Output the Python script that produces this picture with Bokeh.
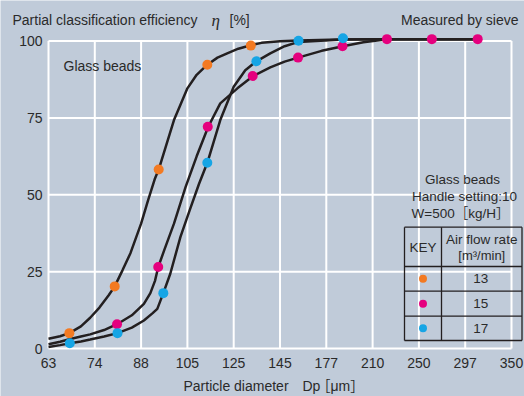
from bokeh.plotting import figure
from bokeh.models import Range1d, FixedTicker, Label
from bokeh.embed import file_html
from bokeh.resources import INLINE

# ---------------- data ----------------
x_tick_labels = ["63", "74", "88", "105", "125", "145", "177", "210", "250", "297", "350"]
y_ticks = [0, 25, 50, 75, 100]

series_names = ["13", "15", "17"]          # air flow rate [m3/min]
series_colors = ["#f37a22", "#e5007e", "#16a5e5"]

# measured points (x in sieve-axis position units, y = efficiency %)
pts13_x = [0.45, 1.43, 2.38, 3.43, 4.37]
pts13_y = [5.0, 20.2, 58.2, 92.3, 98.5]
pts15_x = [1.48, 2.37, 3.44, 4.41, 5.39, 6.35, 7.31, 8.28, 9.27]
pts15_y = [7.9, 26.5, 72.1, 88.6, 94.6, 98.3, 100.6, 100.6, 100.6]
pts17_x = [0.46, 1.49, 2.48, 3.43, 4.49, 5.40, 6.36]
pts17_y = [1.7, 5.0, 18.0, 60.4, 93.4, 100.1, 100.9]

# curves
c13_x = [0, 0.25, 0.45, 0.7, 0.9, 1.1, 1.3, 1.43, 1.6, 1.77, 2.0, 2.15, 2.3, 2.38, 2.55, 2.71,
         2.85, 3.0, 3.2, 3.43, 3.65, 3.86, 4.1, 4.37, 4.6, 5.0, 5.4, 6.3, 7.31, 9.27]
c13_y = [3.2, 4.0, 5.0, 7.2, 10.0, 13.3, 17.3, 20.2, 25.5, 31.0, 40.6, 48.2, 55.3, 58.2, 66.5, 74.3,
         79.3, 84.6, 89.0, 92.3, 94.6, 96.0, 97.5, 98.6, 99.4, 99.9, 100.2, 100.5, 100.6, 100.6]
c15_x = [0, 0.25, 0.45, 0.7, 0.9, 1.2, 1.48, 1.8, 2.06, 2.2, 2.3, 2.37, 2.5, 2.71, 2.96, 3.2,
         3.45, 3.71, 4.08, 4.42, 4.79, 5.1, 5.39, 5.9, 6.36, 6.8, 7.31, 9.27]
c15_y = [1.4, 2.2, 3.0, 3.9, 4.6, 6.0, 7.9, 10.8, 14.5, 18.0, 22.0, 26.5, 32.0, 40.6, 52.5, 62.5,
         72.1, 79.7, 84.6, 88.6, 91.4, 93.3, 94.6, 96.8, 98.3, 99.6, 100.6, 100.6]
c17_x = [0, 0.25, 0.46, 0.7, 0.9, 1.2, 1.49, 1.8, 2.06, 2.25, 2.35, 2.48, 2.63, 2.85, 3.05, 3.25,
         3.43, 3.71, 4.0, 4.25, 4.49, 4.79, 5.1, 5.4, 6.36, 7.31, 9.27]
c17_y = [0.5, 1.1, 1.7, 2.3, 2.9, 3.9, 5.0, 6.8, 9.1, 11.5, 12.9, 18.0, 24.3, 36.3, 45.0, 53.5,
         60.4, 74.3, 85.1, 90.5, 93.4, 96.0, 98.3, 99.7, 100.5, 100.6, 100.6]

# ---------------- style / layout ----------------
BG = "#c0cbd9"
TXT = "#2a2a2a"
LINE = "#231f20"
FONT = "Liberation Sans"
CJK = "'Liberation Sans', 'Noto Sans CJK JP'"
W, H = 524, 396

# page-pixel -> data coordinate helpers (layout only)
X0_PX, X_PX_PER = 48.0, 46.3
Y0_PX, Y_PX_PER = 348.0, 3.075


def dx(px):
    return (px - X0_PX) / X_PX_PER


def dy(py):
    return (Y0_PX - py) / Y_PX_PER


p = figure(width=W, height=H, output_backend="svg", toolbar_location=None, title=None,
           x_range=Range1d(dx(0), dx(W)), y_range=Range1d(dy(H), dy(0)),
           min_border=0, min_border_left=0, min_border_right=0,
           min_border_top=0, min_border_bottom=0)
p.background_fill_color = BG
p.border_fill_color = BG
p.outline_line_color = None
p.xgrid.visible = False
p.ygrid.visible = False

xi = list(range(len(x_tick_labels)))
p.xaxis.ticker = FixedTicker(ticks=xi)
p.xaxis.major_label_overrides = {i: s for i, s in zip(xi, x_tick_labels)}
p.yaxis.ticker = FixedTicker(ticks=y_ticks)
p.xaxis.fixed_location = y_ticks[0]
p.yaxis.fixed_location = xi[0]
for ax in (p.xaxis, p.yaxis):
    ax.axis_line_color = None
    ax.major_tick_line_color = None
    ax.minor_tick_line_color = None
    ax.major_tick_out = 0
    ax.major_tick_in = 0
    ax.major_label_text_font = FONT
    ax.major_label_text_font_size = "14px"
    ax.major_label_text_color = TXT
p.xaxis.major_label_standoff = 9
p.yaxis.major_label_standoff = 6

# white grid
p.segment(x0=xi, y0=[y_ticks[0]] * len(xi), x1=xi, y1=[y_ticks[-1]] * len(xi),
          line_color="white", line_width=2)
p.segment(x0=[xi[0]] * len(y_ticks), y0=y_ticks, x1=[xi[-1]] * len(y_ticks), y1=y_ticks,
          line_color="white", line_width=2)

# curves
for cx, cy in ((c13_x, c13_y), (c15_x, c15_y), (c17_x, c17_y)):
    p.line(cx, cy, line_color=LINE, line_width=2.5)

# points
for (px_, py_), col in zip(((pts13_x, pts13_y), (pts15_x, pts15_y), (pts17_x, pts17_y)), series_colors):
    p.scatter(px_, py_, size=10, fill_color=col, line_color=None)


def text(px, py, s, align="left", size="14px", font=FONT, style="normal"):
    p.add_layout(Label(x=dx(px), y=dy(py), text=s, text_align=align, text_baseline="middle",
                       text_font=font, text_font_size=size, text_font_style=style,
                       text_color=TXT))


# titles
text(12, 19.5, "Partial classification efficiency")
text(211, 20, "η", font="Liberation Serif", style="italic", size="17px")
text(229, 19.5, "[%]")
text(518, 19.5, "Measured by sieve", align="right")
text(63, 65.3, "Glass beads")
text(183, 385.5, "Particle diameter")
text(302, 385.5, "Dp")
text(316, 385.5, "［μm］", font=CJK)

# key table
TL, TM, TR = 404, 441, 521.5
rows = [226.7, 266, 290.7, 315.7, 340]
p.segment(x0=[dx(v) for v in (TL, TM, TR)], y0=[dy(rows[0])] * 3,
          x1=[dx(v) for v in (TL, TM, TR)], y1=[dy(rows[-1])] * 3,
          line_color=LINE, line_width=1.3)
p.segment(x0=[dx(TL)] * len(rows), y0=[dy(r) for r in rows],
          x1=[dx(TR)] * len(rows), y1=[dy(r) for r in rows],
          line_color=LINE, line_width=1.3)

text(462, 179, "Glass beads", align="center", size="13.5px")
text(464, 196, "Handle setting:10", align="center", size="13.5px")
text(460, 212.5, "W=500［kg/H］", align="center", size="13.5px", font=CJK)
text((TL + TM) / 2, 247, "KEY", align="center", size="13.5px")
text((TM + TR) / 2, 238.5, "Air flow rate", align="center", size="13.5px")
text((TM + TR) / 2, 254.5, "[m³/min]", align="center", size="13px")
row_centers = [(rows[i] + rows[i + 1]) / 2 for i in range(1, 4)]
for name, yc in zip(series_names, row_centers):
    text((TM + TR) / 2 - 1, yc, name, align="center", size="13.5px")
p.scatter([dx((TL + TM) / 2)] * 3, [dy(v) for v in row_centers], size=8,
          fill_color=series_colors, line_color=None)

open("out.html", "w").write(file_html(p, INLINE))
